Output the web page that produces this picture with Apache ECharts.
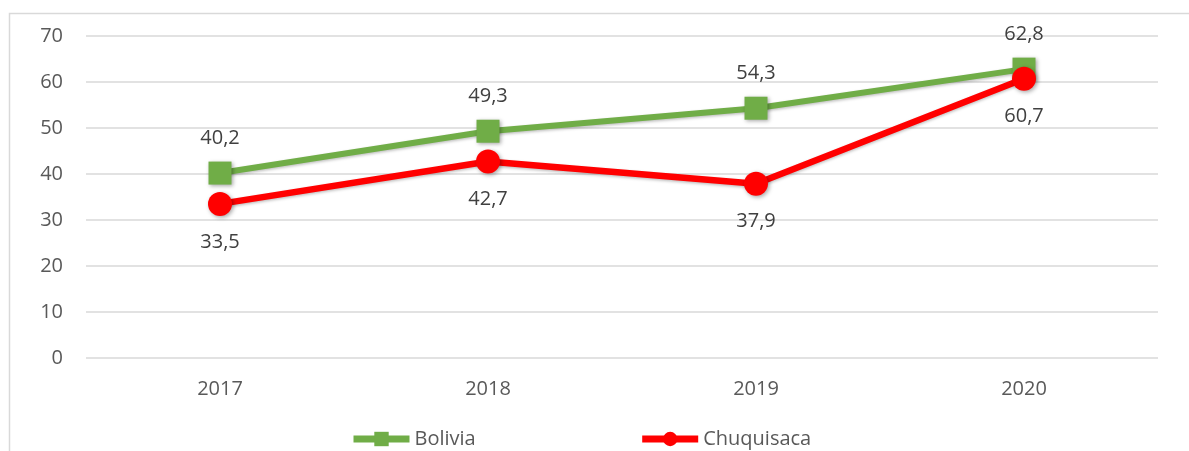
<!DOCTYPE html>
<html>
<head>
<meta charset="utf-8">
<script src="https://cdn.jsdelivr.net/npm/echarts@6/dist/echarts.min.js"></script>
<style>
html,body{margin:0;padding:0;background:#fff;}
#chart{width:1189px;height:451px;}
</style>
</head>
<body>
<div id="chart"></div>
<script>
var categories = ['2017', '2018', '2019', '2020'];
var bolivia = [40.2, 49.3, 54.3, 62.8];
var chuquisaca = [33.5, 42.7, 37.9, 60.7];
var seriesNames = ['Bolivia', 'Chuquisaca'];

var chart = echarts.init(document.getElementById('chart'));
var fontFam = '"Open Sans", "Liberation Sans", sans-serif';
function fmt(p){ return String(p.value).replace('.', ','); }
var shadow = {shadowBlur: 4, shadowColor: 'rgba(0,0,0,0.35)', shadowOffsetX: 1.5, shadowOffsetY: 1.5};

chart.setOption({
  animation: false,
  graphic: [{
    type: 'rect', left: 7, top: 11, shape: {width: 1300, height: 600},
    style: {fill: 'none', stroke: '#d9d9d9', lineWidth: 1.5}, silent: true
  }],
  grid: {left: 86, right: 31, top: 36, bottom: 93, containLabel: false},
  legend: {
    left: 345, top: 424,
    itemWidth: 56, itemHeight: 18, itemGap: 163,
    lineStyle: {width: 7},
    textStyle: {fontSize: 20, color: '#595959', fontFamily: fontFam},
    data: seriesNames
  },
  xAxis: {
    type: 'category', data: categories, boundaryGap: true,
    axisLine: {show: false}, axisTick: {show: false},
    axisLabel: {fontSize: 20, color: '#595959', fontFamily: fontFam, margin: 21}
  },
  yAxis: {
    type: 'value', min: 0, max: 70, interval: 10,
    axisLine: {show: false}, axisTick: {show: false},
    splitLine: {lineStyle: {color: '#d9d9d9', width: 1.5}},
    axisLabel: {fontSize: 20, color: '#595959', fontFamily: fontFam, margin: 23}
  },
  series: [{
    name: seriesNames[0], type: 'line', data: bolivia,
    symbol: 'rect', symbolSize: 23, z: 2,
    lineStyle: {color: '#70AD47', width: 6, shadowBlur: 3, shadowColor: 'rgba(0,0,0,0.25)', shadowOffsetY: 1.5},
    itemStyle: Object.assign({color: '#70AD47'}, shadow),
    label: {show: true, position: 'top', distance: 13, formatter: fmt,
      fontSize: 20, color: '#404040', fontFamily: fontFam}
  }, {
    name: seriesNames[1], type: 'line', data: chuquisaca,
    symbol: 'circle', symbolSize: 24, z: 3,
    lineStyle: {color: '#FF0000', width: 6.5, shadowBlur: 3, shadowColor: 'rgba(0,0,0,0.25)', shadowOffsetY: 1.5},
    itemStyle: Object.assign({color: '#FF0000'}, shadow),
    label: {show: true, position: 'bottom', distance: 16, formatter: fmt,
      fontSize: 20, color: '#404040', fontFamily: fontFam}
  }]
});
</script>
</body>
</html>
